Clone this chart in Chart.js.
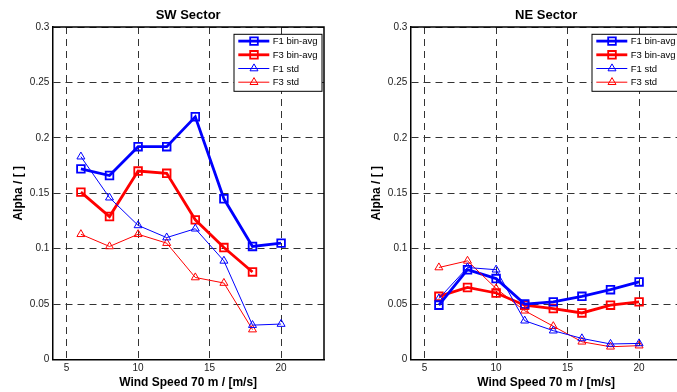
<!DOCTYPE html>
<html>
<head>
<meta charset="utf-8">
<script src="https://cdn.jsdelivr.net/npm/chart.js@4.4.0/dist/chart.umd.min.js"></script>
<style>
    html, body { margin: 0; padding: 0; background: #fff; overflow: hidden; width: 677px; height: 392px; }
    canvas { position: absolute; top: 0; }
    #swChart { left: 0; }
    #neChart { left: 358px; }
</style>
</head>
<body>
<canvas id="swChart" width="340" height="392"></canvas>
<canvas id="neChart" width="340" height="392"></canvas>
<script>
// Data
const windSpeed = [6, 8, 10, 12, 14, 16, 18, 20];
const xTicks = [5, 10, 15, 20];
const yTicks = [0, 0.05, 0.1, 0.15, 0.2, 0.25, 0.3];
const seriesLabels = ['F1 bin-avg', 'F3 bin-avg', 'F1 std', 'F3 std'];

// SW sector
const swF1Avg = [0.172, 0.166, 0.192, 0.192, 0.219, 0.145, 0.102, 0.105];
const swF3Avg = [0.151, 0.129, 0.170, 0.168, 0.126, 0.101, 0.079];
const swF1Std = [0.183, 0.146, 0.121, 0.110, 0.118, 0.089, 0.031, 0.032];
const swF3Std = [0.113, 0.102, 0.113, 0.105, 0.074, 0.069, 0.027];

// NE sector
const neF1Avg = [0.049, 0.081, 0.073, 0.050, 0.052, 0.057, 0.063, 0.070];
const neF3Avg = [0.057, 0.065, 0.060, 0.049, 0.046, 0.042, 0.049, 0.052];
const neF1Std = [0.055, 0.083, 0.081, 0.035, 0.026, 0.019, 0.014, 0.0145];
const neF3Std = [0.083, 0.089, 0.064, 0.044, 0.030, 0.016, 0.0115, 0.0125];

const fontFamily = 'Arial, "Liberation Sans", Helvetica, sans-serif';
const BLUE = '#0000ff';
const RED = '#ff0000';

function toPoints(values) {
    return values.map((v, i) => ({ x: windSpeed[i], y: v }));
}

function makeDatasets(f1Avg, f3Avg, f1Std, f3Std) {
    const thick = (label, values, color) => ({
        label: label,
        data: toPoints(values),
        borderColor: color,
        borderWidth: 2.8,
        pointStyle: 'rect',
        pointRadius: 5.4,
        pointBorderWidth: 1.8,
        pointBorderColor: color,
        pointBackgroundColor: 'rgba(0,0,0,0)',
        tension: 0,
        fill: false,
        order: 1
    });
    const thin = (label, values, color) => ({
        label: label,
        data: toPoints(values),
        borderColor: color,
        borderWidth: 1,
        pointStyle: 'triangle',
        pointRadius: 4.6,
        pointBorderWidth: 1,
        pointBorderColor: color,
        pointBackgroundColor: 'rgba(0,0,0,0)',
        tension: 0,
        fill: false,
        order: 0
    });
    return [
        thick(seriesLabels[0], f1Avg, BLUE),
        thick(seriesLabels[1], f3Avg, RED),
        thin(seriesLabels[2], f1Std, BLUE),
        thin(seriesLabels[3], f3Std, RED)
    ];
}

// Small marker helper for the legend (same shapes as Chart.js)
function drawMarker(ctx, style, x, y, r) {
    ctx.beginPath();
    if (style === 'rect') {
        const s = Math.SQRT1_2 * r;
        ctx.rect(x - s, y - s, 2 * s, 2 * s);
    } else {
        let rad = 0;
        ctx.moveTo(x + Math.sin(rad) * r, y - Math.cos(rad) * r);
        rad += 2 * Math.PI / 3;
        ctx.lineTo(x + Math.sin(rad) * r, y - Math.cos(rad) * r);
        rad += 2 * Math.PI / 3;
        ctx.lineTo(x + Math.sin(rad) * r, y - Math.cos(rad) * r);
        ctx.closePath();
    }
    ctx.stroke();
}

// Frame (top/right), sector title and matlab style legend box
const framePlugin = {
    id: 'sectorFrame',
    afterDraw(chart, args, opts) {
        const ctx = chart.ctx;
        const a = chart.chartArea;
        ctx.save();
        ctx.strokeStyle = '#000';
        ctx.lineWidth = 1.5;
        ctx.beginPath();
        ctx.moveTo(a.left, a.top);
        ctx.lineTo(a.right, a.top);
        ctx.lineTo(a.right, a.bottom);
        ctx.stroke();

        // title
        ctx.fillStyle = '#000';
        ctx.font = 'bold 13px ' + fontFamily;
        ctx.textAlign = 'center';
        ctx.textBaseline = 'middle';
        ctx.fillText(opts.text, (a.left + a.right) / 2, 15.5);

        // legend
        const bx = a.left + 181.7, by = a.top + 7.3, bw = 88, bh = 57;
        ctx.fillStyle = '#fff';
        ctx.fillRect(bx, by, bw, bh);
        ctx.strokeStyle = '#000';
        ctx.lineWidth = 1;
        ctx.strokeRect(bx, by, bw, bh);
        ctx.font = '9.5px ' + fontFamily;
        ctx.textAlign = 'left';
        chart.data.datasets.forEach((ds, i) => {
            const yy = by + 6.8 + i * 13.7;
            ctx.strokeStyle = ds.borderColor;
            ctx.lineWidth = ds.borderWidth;
            ctx.beginPath();
            ctx.moveTo(bx + 4.3, yy);
            ctx.lineTo(bx + 35.3, yy);
            ctx.stroke();
            ctx.lineWidth = ds.pointBorderWidth;
            drawMarker(ctx, ds.pointStyle, bx + 20, yy, ds.pointRadius);
            ctx.fillStyle = '#000';
            ctx.fillText(ds.label, bx + 38.7, yy + 0.5);
        });
        ctx.restore();
    }
};

function makeOptions(title) {
    return {
        responsive: false,
        animation: false,
        devicePixelRatio: 1,
        layout: { padding: { top: 27, right: 16, bottom: 0, left: 0 } },
        plugins: {
            legend: { display: false },
            tooltip: { enabled: false },
            sectorFrame: { text: title }
        },
        scales: {
            x: {
                type: 'linear',
                min: 4,
                max: 23,
                afterBuildTicks: (scale) => { scale.ticks = xTicks.map(v => ({ value: v })); },
                afterFit: (scale) => { scale.height = 32.5; },
                ticks: {
                    padding: 3,
                    maxRotation: 0,
                    color: '#222',
                    font: { family: fontFamily, size: 10 },
                    callback: (v) => String(v)
                },
                grid: { color: '#333', lineWidth: 1, drawTicks: false },
                border: { display: true, color: '#000', width: 1.5, dash: [7, 5] },
                title: {
                    display: true,
                    text: 'Wind Speed 70 m / [m/s]',
                    color: '#000',
                    font: { family: fontFamily, size: 12, weight: 'bold' },
                    padding: { top: 0, bottom: 2.5 }
                }
            },
            y: {
                min: 0,
                max: 0.3,
                afterBuildTicks: (scale) => { scale.ticks = yTicks.map(v => ({ value: v })); },
                afterFit: (scale) => { scale.width = 52.3; },
                ticks: {
                    padding: 3,
                    color: '#222',
                    font: { family: fontFamily, size: 10 },
                    callback: (v) => String(v)
                },
                grid: { color: '#333', lineWidth: 1, drawTicks: false },
                border: { display: true, color: '#000', width: 1.5, dash: [7, 5] },
                title: {
                    display: true,
                    text: 'Alpha / [ ]',
                    color: '#000',
                    font: { family: fontFamily, size: 12, weight: 'bold' },
                    padding: { top: 11.8, bottom: 0 }
                }
            }
        }
    };
}

const swChart = new Chart(document.getElementById('swChart'), {
    type: 'line',
    data: { datasets: makeDatasets(swF1Avg, swF3Avg, swF1Std, swF3Std) },
    options: makeOptions('SW Sector'),
    plugins: [framePlugin]
});

const neChart = new Chart(document.getElementById('neChart'), {
    type: 'line',
    data: { datasets: makeDatasets(neF1Avg, neF3Avg, neF1Std, neF3Std) },
    options: makeOptions('NE Sector'),
    plugins: [framePlugin]
});
</script>
</body>
</html>
